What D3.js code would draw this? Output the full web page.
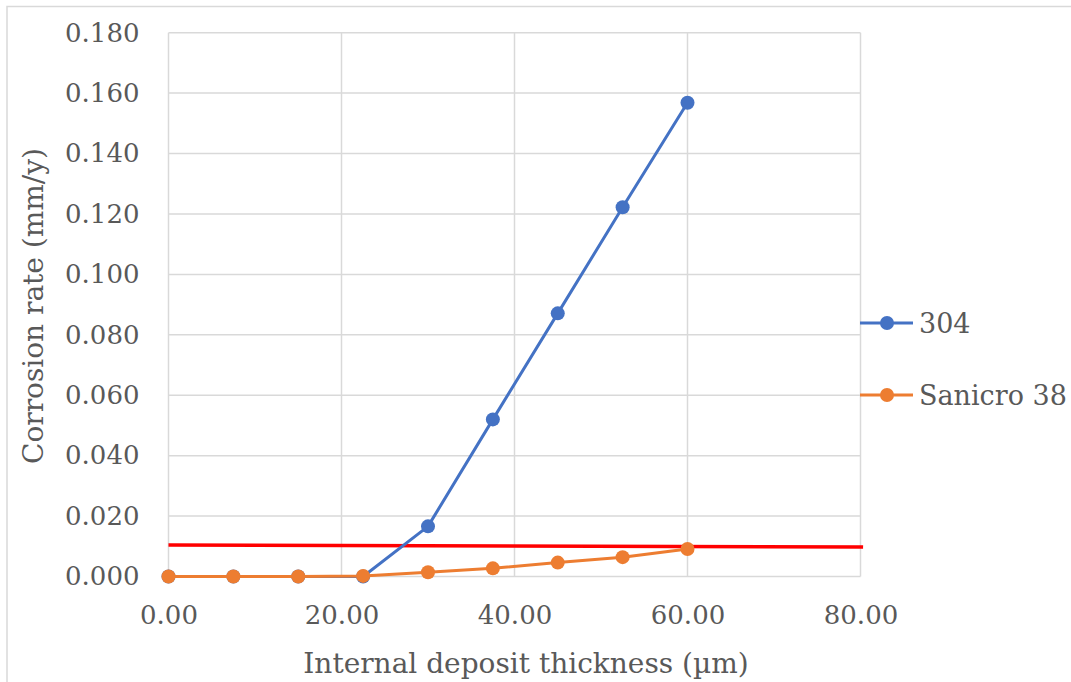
<!DOCTYPE html>
<html>
<head>
<meta charset="utf-8">
<script src="https://cdn.jsdelivr.net/npm/d3@7"></script>
<style>
  html, body { margin: 0; padding: 0; background: #fff; }
  svg { display: block; }
  text { font-family: "DejaVu Serif", "Liberation Serif", serif; fill: #595959; }
</style>
</head>
<body>
<svg id="chart" width="1071" height="682"></svg>
<script>
// Deposit thickness (µm) at which corrosion was evaluated
const thickness = [0, 7.5, 15, 22.5, 30, 37.5, 45, 52.5, 60];
// Corrosion rate (mm/y) per alloy
const rate304 = [0, 0, 0, 0, 0.0166, 0.0520, 0.0871, 0.1222, 0.1568];
const rateSanicro38 = [0, 0, 0, 0.0002, 0.0014, 0.0027, 0.0046, 0.0064, 0.0091];
// Reference limit line
const limitX = [0, 80.3];
const limitY = [0.0104, 0.0098];
// Axis ticks
const xTicks = [0, 20, 40, 60, 80];
const yTicks = [0, 0.02, 0.04, 0.06, 0.08, 0.10, 0.12, 0.14, 0.16, 0.18];
const seriesNames = ["304", "Sanicro 38"];
const seriesColors = ["#4472C4", "#ED7D31"];

const svg = d3.select("#chart");
const plotLeft = 168.5, plotRight = 860.5, plotTop = 32.7, plotBottom = 576.5;

const x = d3.scaleLinear().domain([0, 80]).range([plotLeft, plotRight]);
const y = d3.scaleLinear().domain([0, 0.18]).range([plotBottom, plotTop]);

// Chart frame
svg.append("rect")
  .attr("x", 7).attr("y", 6.5)
  .attr("width", 1100).attr("height", 700)
  .attr("fill", "none").attr("stroke", "#D9D9D9").attr("stroke-width", 1.5);

// Gridlines
const grid = svg.append("g");
grid.selectAll(".hg").data(yTicks).join("line")
  .attr("x1", plotLeft).attr("x2", plotRight)
  .attr("y1", d => y(d)).attr("y2", d => y(d))
  .attr("stroke", "#D9D9D9").attr("stroke-width", 1.5);
grid.selectAll(".vg").data(xTicks).join("line")
  .attr("x1", d => x(d)).attr("x2", d => x(d))
  .attr("y1", plotTop).attr("y2", plotBottom)
  .attr("stroke", "#D9D9D9").attr("stroke-width", 1.5);

// Axes (labels only; lines come from the grid)
const xAxis = svg.append("g")
  .attr("transform", `translate(0,${plotBottom})`)
  .call(d3.axisBottom(x).tickValues(xTicks).tickFormat(d3.format(".2f")).tickSize(0).tickPadding(29));
xAxis.select(".domain").remove();
xAxis.selectAll("text").style("font-size", "26px").attr("dy", "0.71em")
  .style("font-family", '"DejaVu Serif", serif').attr("fill", "#595959");

const yAxis = svg.append("g")
  .attr("transform", `translate(${plotLeft},0)`)
  .call(d3.axisLeft(y).tickValues(yTicks).tickFormat(d3.format(".3f")).tickSize(0).tickPadding(29));
yAxis.select(".domain").remove();
yAxis.selectAll("text").style("font-size", "26px")
  .style("font-family", '"DejaVu Serif", serif').attr("fill", "#595959");

// Axis titles
svg.append("text")
  .attr("x", 526).attr("y", 673)
  .attr("text-anchor", "middle")
  .style("font-size", "28px")
  .text("Internal deposit thickness (µm)");
svg.append("text")
  .attr("transform", "translate(43,306) rotate(-90)")
  .attr("text-anchor", "middle")
  .style("font-size", "28px")
  .text("Corrosion rate (mm/y)");

// Limit line
const limitData = limitX.map((v, i) => [v, limitY[i]]);
svg.append("path")
  .datum(limitData)
  .attr("d", d3.line().x(d => x(d[0])).y(d => y(d[1])))
  .attr("fill", "none").attr("stroke", "#FF0000").attr("stroke-width", 3.5);

// Series
const series = [rate304, rateSanicro38];
const line = d3.line().x(d => x(d[0])).y(d => y(d[1]));
series.forEach((vals, i) => {
  const pts = thickness.map((t, j) => [t, vals[j]]);
  const g = svg.append("g");
  g.append("path").datum(pts)
    .attr("d", line)
    .attr("fill", "none").attr("stroke", seriesColors[i]).attr("stroke-width", 3)
    .attr("stroke-linejoin", "round");
  g.selectAll("circle").data(pts).join("circle")
    .attr("cx", d => x(d[0])).attr("cy", d => y(d[1]))
    .attr("r", 7).attr("fill", seriesColors[i]);
});

// Legend
const legendY = [323, 395];
seriesNames.forEach((name, i) => {
  const g = svg.append("g").attr("transform", `translate(0,${legendY[i]})`);
  g.append("line").attr("x1", 860).attr("x2", 913).attr("y1", 0).attr("y2", 0)
    .attr("stroke", seriesColors[i]).attr("stroke-width", 3);
  g.append("circle").attr("cx", 887).attr("cy", 0).attr("r", 7).attr("fill", seriesColors[i]);
  g.append("text").attr("x", 919).attr("y", 0).attr("dy", "0.36em")
    .style("font-size", "27px").text(name);
});
</script>
</body>
</html>
